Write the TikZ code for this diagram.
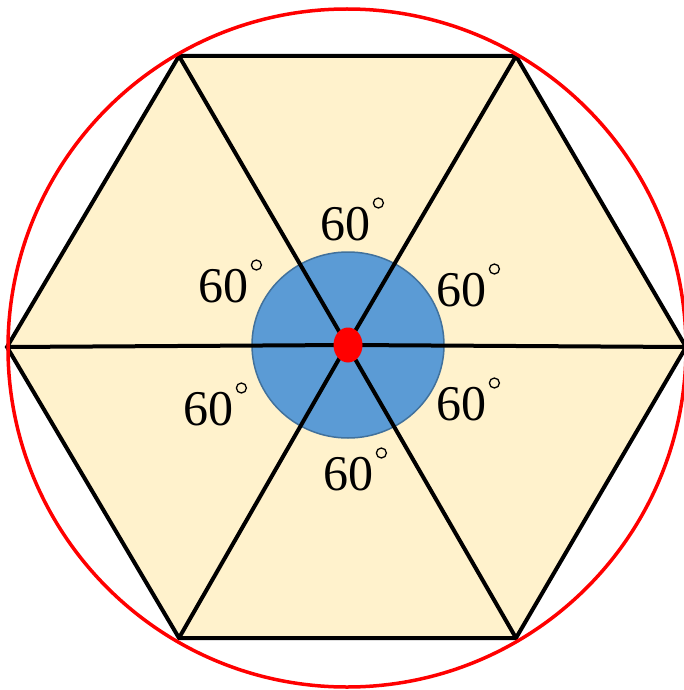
\documentclass[tikz,border=0pt]{standalone}
\usepackage{fontspec}
\setmainfont{Liberation Serif}
\definecolor{cream}{HTML}{FFF2CC}
\definecolor{bluefill}{HTML}{5B9BD5}
\definecolor{blueedge}{HTML}{41719C}
\begin{document}
\begin{tikzpicture}[x=1pt,y=-1pt,
  edge/.style={black,line width=4pt,line join=miter},
  lbl/.style={font=\fontsize{50}{52}\selectfont,inner sep=0pt,anchor=base west},
  degc/.style={black,line width=1.3pt}]
\useasboundingbox (0,0) rectangle (684,690);
\coordinate (C) at (347,345);
\coordinate (L) at (7,347);
\coordinate (TL) at (179,56);
\coordinate (TR) at (516,56);
\coordinate (R) at (686,347);
\coordinate (BR) at (516,638);
\coordinate (BL) at (179,638);
\fill[cream] (L) -- (TL) -- (TR) -- (R) -- (BR) -- (BL) -- cycle;
\draw[fill=bluefill,draw=blueedge,line width=1.5pt] (348,345) ellipse (96 and 93);
\draw[edge] (L) -- (TL) -- (TR) -- (R) -- (BR) -- (BL) -- cycle;
\draw[edge] (L) -- (C) -- (R);
\draw[edge] (TL) -- (C) -- (BR);
\draw[edge] (TR) -- (C) -- (BL);
\fill[red] (348,345) ellipse (14.5 and 17.5);
\draw[red,line width=3.5pt] (347,348) circle (339);
\node[lbl] (t) at (320,240) {60};
\node[lbl] (ul) at (198,302) {60};
\node[lbl] (ur) at (436,306) {60};
\node[lbl] (ll) at (183,425) {60};
\node[lbl] (lr) at (436,420) {60};
\node[lbl] (b) at (323,490) {60};
\foreach \n in {t,ul,ur,ll,lr,b}
  \draw[degc] ([shift={(8,-37)}]\n.base east) circle (5);
\end{tikzpicture}
\end{document}
